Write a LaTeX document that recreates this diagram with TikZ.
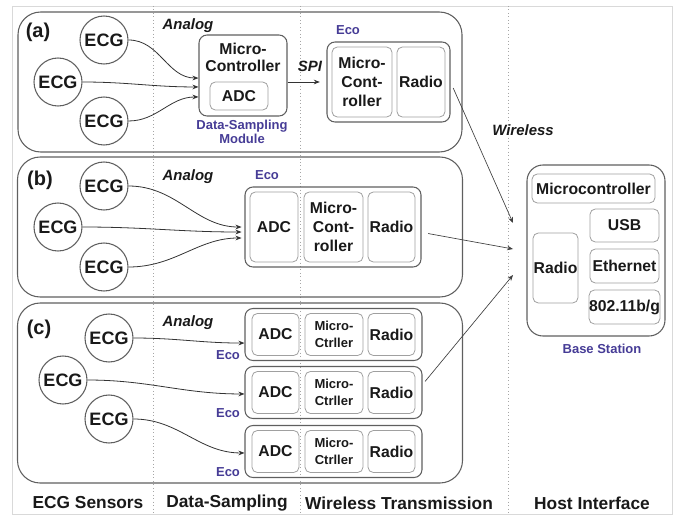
\documentclass[tikz,border=0pt]{standalone}
\usepackage{fontspec}
\setmainfont{Liberation Sans}
\usetikzlibrary{arrows.meta}
\definecolor{ecoblue}{RGB}{70,60,150}
\definecolor{linegray}{RGB}{95,95,95}
\definecolor{boxgray}{RGB}{160,160,160}
\definecolor{txt}{RGB}{25,25,25}
\begin{document}
\begin{tikzpicture}[x=0.75pt,y=-0.75pt,
  sz/.style 2 args={minimum width=#1*0.75pt,minimum height=#2*0.75pt},
  panel/.style={draw=linegray,line width=0.8pt,rounded corners=17pt,inner sep=0pt},
  ecobox/.style={draw=linegray,line width=0.8pt,rounded corners=6pt,inner sep=0pt},
  inbox/.style={draw=boxgray,line width=0.6pt,rounded corners=4pt,inner sep=0pt,align=center,text=txt},
  ecg/.style={circle,draw=linegray,line width=0.8pt,minimum size=36pt,inner sep=0pt,text=txt,font=\fontsize{13.5}{15}\selectfont\bfseries},
  fbox/.style={font=\fontsize{11.8}{14}\selectfont\bfseries},
  fsmall/.style={font=\fontsize{9.75}{12.5}\selectfont\bfseries},
  ecolbl/.style={text=ecoblue,font=\fontsize{9.75}{11}\selectfont\bfseries},
  ital/.style={text=txt,font=\fontsize{11.2}{13}\selectfont\bfseries\itshape},
  bottom/.style={text=txt,font=\fontsize{13}{15}\selectfont\bfseries},
  plabel/.style={text=txt,font=\fontsize{15}{17}\selectfont\bfseries},
  arr/.style={-{Stealth[length=4.5pt,width=3.5pt]},draw=black!80,line width=0.6pt},
  warr/.style={-{Stealth[length=4.5pt,width=3.5pt]},draw=black!75,line width=0.5pt},
  sep/.style={draw=gray!70,dotted,line width=0.6pt}
]
\useasboundingbox (0,0) rectangle (681,517);
\draw[draw=gray!30,line width=0.6pt] (12,6) rectangle (672,514);
\draw[sep] (153,6) -- (153,514);
\draw[sep] (300,6) -- (300,514);
\draw[sep] (508,6) -- (508,514);

% panels
\node[panel,sz={444}{140}] (pa) at (240,82) {};
\node[panel,sz={445}{140}] (pb) at (240,227) {};
\node[panel,sz={445}{180}] (pc) at (240,393) {};
\node[plabel] (la) at (38,32) {(a)};
\node[plabel] (lb) at (40,180) {(b)};
\node[plabel] (lc) at (39,329) {(c)};

% ---------- (a)
\node[ecg] (a1) at (104,40) {ECG};
\node[ecg] (a2) at (58,82) {ECG};
\node[ecg] (a3) at (104,121) {ECG};
\node[ital] (ana) at (188,26) {Analog};
\node[ecobox,sz={88}{81}] (mca) at (243,75.5) {};
\node[fbox,text=txt,align=center] (mcat) at (243,57.5) {Micro-\\[-1.2pt]Controller};
\node[inbox,fbox,sz={58}{28}] (adca) at (239,96) {ADC};
\node[ecolbl,align=center] (dsm) at (242,132) {Data-Sampling\\[-1pt]Module};
\draw[arr] (a1.east) to[out=0,in=180] ([yshift=-1.9pt]mca.west);
\draw[arr] (a2.east) to[out=0,in=180] ([yshift=-8.6pt]mca.west);
\draw[arr] (a3.east) to[out=0,in=180] ([yshift=-16.1pt]mca.west);
\node[ecobox,sz={123}{80}] (ecoa) at (388.5,82) {};
\node[ecolbl] (ecoal) at (348,30) {Eco};
\node[inbox,fbox,sz={60}{70}] (mcea) at (362,82) {Micro-\\Cont-\\roller};
\node[inbox,fbox,sz={48}{70}] (ra) at (421,82) {Radio};
\draw[arr,shorten >=5pt] (mca.east |- ecoa.west) -- (ecoa.west);
\node[ital] (spi) at (310,66) {SPI};

% ---------- (b)
\node[ecg] (b1) at (104,186) {ECG};
\node[ecg] (b2) at (58,227) {ECG};
\node[ecg] (b3) at (104,267) {ECG};
\node[ital] (anb) at (188,177) {Analog};
\node[ecolbl] (ecobl) at (267,175) {Eco};
\node[ecobox,sz={176}{80}] (ecob) at (333,227) {};
\node[inbox,fbox,sz={48}{70}] (adcb) at (274,227) {ADC};
\node[inbox,fbox,sz={59}{70}] (mcb) at (333.5,227) {Micro-\\Cont-\\roller};
\node[inbox,fbox,sz={47}{70}] (rb) at (391.5,227) {Radio};
\draw[arr,shorten >=2.2pt] (b1.east) to[out=0,in=180] (ecob.west);
\draw[arr,shorten >=2.2pt] (b2.east) to[out=0,in=180] ([yshift=-3.75pt]ecob.west);
\draw[arr,shorten >=2.2pt] (b3.east) to[out=0,in=180] ([yshift=-8.25pt]ecob.west);

% ---------- (c)
\node[ecg] (c1) at (109,338) {ECG};
\node[ecg] (c2) at (63,380) {ECG};
\node[ecg] (c3) at (109,419) {ECG};
\node[ital] (anc) at (188,323) {Analog};
\foreach \i/\y in {1/334.5,2/392.5,3/451.5}{
  \node[ecobox,sz={177}{52}] (ecoc\i) at (333.5,\y) {};
  \node[inbox,fbox,sz={47}{42}] (adcc\i) at (275.5,\y) {ADC};
  \node[inbox,fsmall,sz={58}{42}] (mcc\i) at (334,\y) {Micro-\\Ctrller};
  \node[inbox,fbox,sz={47}{42}] (rc\i) at (391.5,\y) {Radio};
}
\node[ecolbl] (ecocl1) at (228,355) {Eco};
\node[ecolbl] (ecocl2) at (228,413) {Eco};
\node[ecolbl] (ecocl3) at (228,472) {Eco};
\draw[arr] (c1.east) to[out=0,in=180] ([yshift=-6.4pt]ecoc1.west);
\draw[arr] (c2.east) to[out=0,in=180] ([yshift=-1.1pt]ecoc2.west);
\draw[arr] (c3.east) to[out=0,in=180] ([yshift=-1.1pt]ecoc3.west);

% ---------- base station
\node[ecobox,rounded corners=12pt,sz={138}{171}] (bs) at (596,250.5) {};
\node[inbox,fbox,sz={123}{29}] (bsmc) at (593.5,188.5) {Microcontroller};
\node[inbox,fbox,sz={69}{33}] (usb) at (624.5,225.5) {USB};
\node[inbox,fbox,sz={69}{34}] (eth) at (624.5,266) {Ethernet};
\node[inbox,fbox,sz={69}{34}] (wifi) at (624.5,307) {802.11b/g};
\node[inbox,fbox,sz={45}{70}] (bsr) at (555.5,268) {Radio};
\node[ecolbl] (bsl) at (602,349) {Base Station};

\coordinate (w1) at (513,223);
\coordinate (w2) at (513,249);
\coordinate (w3) at (513,275);
\draw[warr,shorten <=5pt] (ecoa.east) -- (w1);
\draw[warr,shorten <=5pt] ([yshift=-4pt]ecob.east) -- (w2);
\draw[warr,shorten <=3pt] ([yshift=6pt]ecoc2.east) -- (w3);
\node[ital] (wl) at (523,130) {Wireless};

% bottom labels
\node[bottom] (t1) at (88,503) {ECG Sensors};
\node[bottom] (t2) at (227,503) {Data-Sampling};
\node[bottom] (t3) at (399,503) {Wireless Transmission};
\node[bottom] (t4) at (592,503) {Host Interface};
\end{tikzpicture}
\end{document}
